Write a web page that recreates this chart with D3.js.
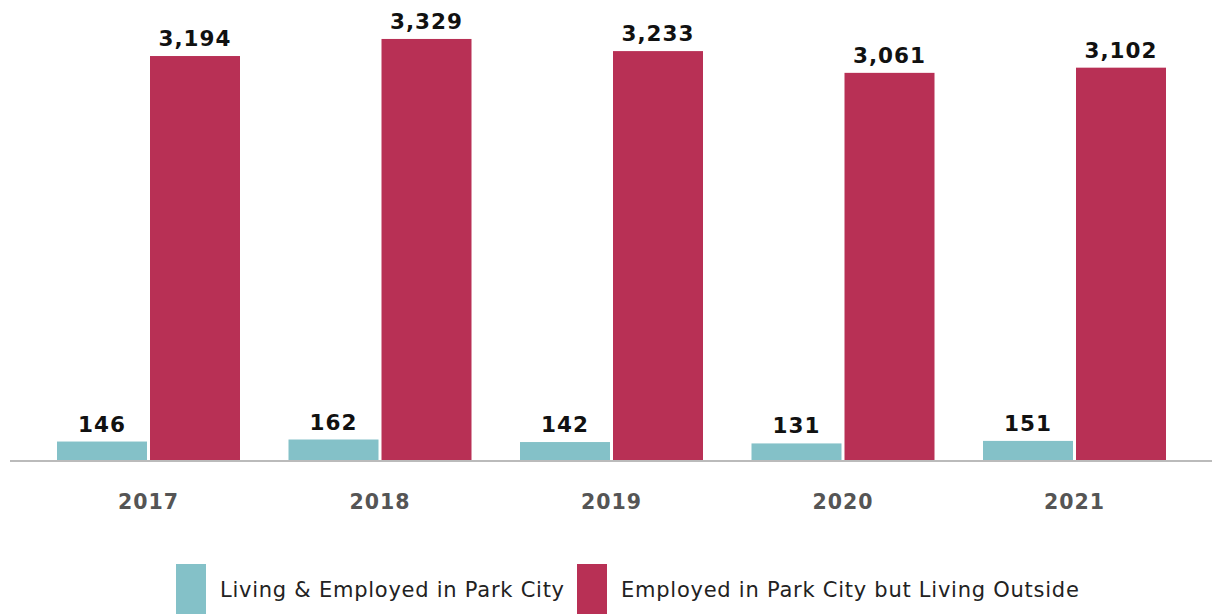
<!DOCTYPE html>
<html>
<head>
<meta charset="utf-8">
<script src="https://cdn.jsdelivr.net/npm/d3@7/dist/d3.min.js"></script>
<style>
  html, body { margin: 0; padding: 0; background: #fff; }
  svg { display: block; }
</style>
</head>
<body>
<svg id="chart" width="1212" height="614"></svg>
<script>
const years = ["2017", "2018", "2019", "2020", "2021"];
const seriesNames = ["Living & Employed in Park City", "Employed in Park City but Living Outside"];
const livingEmployed = [146, 162, 142, 131, 151];
const livingOutside = [3194, 3329, 3233, 3061, 3102];
const colors = ["#84C1C8", "#B83055"];

const svg = d3.select("#chart");
const baseY = 460;

const x0 = d3.scaleBand().domain(years).range([32.75, 1190.25]).paddingInner(0).paddingOuter(0);
const x1 = d3.scaleBand().domain(seriesNames).range([24.25, 207.25]).paddingInner(3 / 93).paddingOuter(0);
const y = d3.scaleLinear().domain([0, 3637]).range([baseY, 0]);

const data = years.map((yr, i) => ({
  year: yr,
  values: [
    { key: seriesNames[0], value: livingEmployed[i], idx: 0 },
    { key: seriesNames[1], value: livingOutside[i], idx: 1 }
  ]
}));

const groups = svg.selectAll("g.grp").data(data).join("g")
  .attr("class", "grp")
  .attr("transform", d => `translate(${x0(d.year)},0)`);

groups.selectAll("rect").data(d => d.values).join("rect")
  .attr("x", d => x1(d.key))
  .attr("width", x1.bandwidth())
  .attr("y", d => y(d.value))
  .attr("height", d => baseY - y(d.value))
  .attr("fill", d => colors[d.idx]);

groups.selectAll("text.val").data(d => d.values).join("text")
  .attr("class", "val")
  .attr("x", d => x1(d.key) + x1.bandwidth() / 2)
  .attr("y", d => y(d.value) - 10)
  .attr("text-anchor", "middle")
  .style("font-family", "DejaVu Sans")
  .style("font-weight", "bold")
  .style("font-size", "21.5px")
  .style("letter-spacing", "1px")
  .style("fill", "#111")
  .text(d => d3.format(",")(d.value));

// x axis
const xAxis = d3.axisBottom(x0).tickSize(0).tickPadding(0);
const axisG = svg.append("g").attr("transform", `translate(0,${baseY})`).call(xAxis);
axisG.select(".domain").remove();
axisG.selectAll("text")
  .attr("y", 49)
  .attr("dy", 0)
  .style("font-family", "DejaVu Sans")
  .style("font-weight", "bold")
  .style("font-size", "20.5px")
  .style("letter-spacing", "1px")
  .style("fill", "#555");
svg.append("line")
  .attr("x1", 10).attr("x2", 1212)
  .attr("y1", baseY + 1).attr("y2", baseY + 1)
  .attr("stroke", "#bbb").attr("stroke-width", 2);

// legend
const legendX = [176, 577];
const leg = svg.selectAll("g.leg").data(seriesNames).join("g")
  .attr("class", "leg")
  .attr("transform", (d, i) => `translate(${legendX[i]},564)`);
leg.append("rect").attr("width", 30).attr("height", 50).attr("fill", (d, i) => colors[i]);
leg.append("text")
  .attr("x", 44).attr("y", 33)
  .style("font-family", "DejaVu Sans")
  .style("font-size", "21px")
  .style("letter-spacing", "0.75px")
  .style("fill", "#222")
  .text(d => d);
</script>
</body>
</html>
